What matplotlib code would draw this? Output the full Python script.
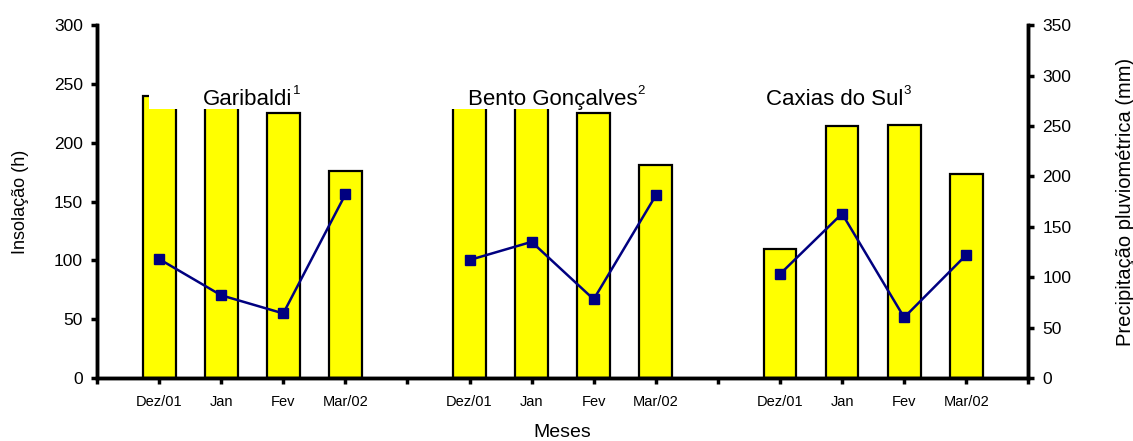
import numpy as np
from matplotlib import pyplot as plt
from matplotlib.patches import Rectangle

plt.rcParams['font.family'] = ['Liberation Sans', 'DejaVu Sans']

# data
months = ['Dez/01', 'Jan', 'Fev', 'Mar/02']
places = ['Garibaldi', 'Bento Gonçalves', 'Caxias do Sul']
notes = ['1', '2', '3']
insolacao = [[240, 236, 225, 176],
             [242, 245, 225, 181],
             [110, 214, 215, 173]]
precip = [[118, 82, 64, 182],
          [117, 135, 78, 181],
          [103, 163, 60, 122]]

fig = plt.figure(figsize=(11.33, 4.41), dpi=100)
ax = fig.add_axes([0.0856, 0.143, 0.822, 0.8])
ax2 = ax.twinx()

nslot = len(months) + 1
tick_labels = ['']
for g in range(len(places)):
    x = np.arange(1, len(months) + 1) + g * nslot
    ax.bar(x, insolacao[g], width=0.53, color='#ffff00', edgecolor='black',
           linewidth=1.6, zorder=2)
    ax2.plot(x, precip[g], color='#000080', lw=1.8, marker='s', ms=7,
             zorder=3)
    tick_labels += months + ['']

# white label boxes hide bar tops behind the station names
ax.add_patch(Rectangle((0.84, 228.5), 3.1, 30, facecolor='white',
                       edgecolor='none', zorder=3))
ax.add_patch(Rectangle((5.7, 228.5), 3.4, 30, facecolor='white',
                       edgecolor='none', zorder=3))
for xpos, name, note in zip([1.71, 5.98, 10.77], places, notes):
    t = ax.text(xpos, 232, name, fontsize=16, va='baseline', zorder=4)
    ax.annotate(note, xy=(1.0, 1.18), xycoords=t, fontsize=9.5,
                va='top', ha='left', zorder=4)

ax.set_xlim(0, 15)
ax.set_xticks(np.arange(16))
ax.set_xticklabels(tick_labels, fontsize=10.5)
ax.set_ylim(0, 300)
ax.set_yticks(np.arange(0, 301, 50))
ax.tick_params(axis='y', labelsize=12.5, width=2.5, length=4, pad=6)
ax.tick_params(axis='x', width=2.5, length=4, pad=8)
ax2.set_ylim(0, 350)
ax2.set_yticks(np.arange(0, 351, 50))
ax2.tick_params(axis='y', labelsize=12.5, width=2.5, length=4, pad=6)

for a in (ax, ax2):
    a.spines['top'].set_visible(False)
    for s in ('left', 'right', 'bottom'):
        a.spines[s].set_linewidth(2.5)

ax.set_ylabel('Insolação (h)', fontsize=13, labelpad=18)
ax.set_xlabel('Meses', fontsize=14, labelpad=11)
ax2.set_ylabel('Precipitação pluviométrica (mm)', fontsize=14.5, labelpad=32)

fig.savefig('out.png', dpi=100)
